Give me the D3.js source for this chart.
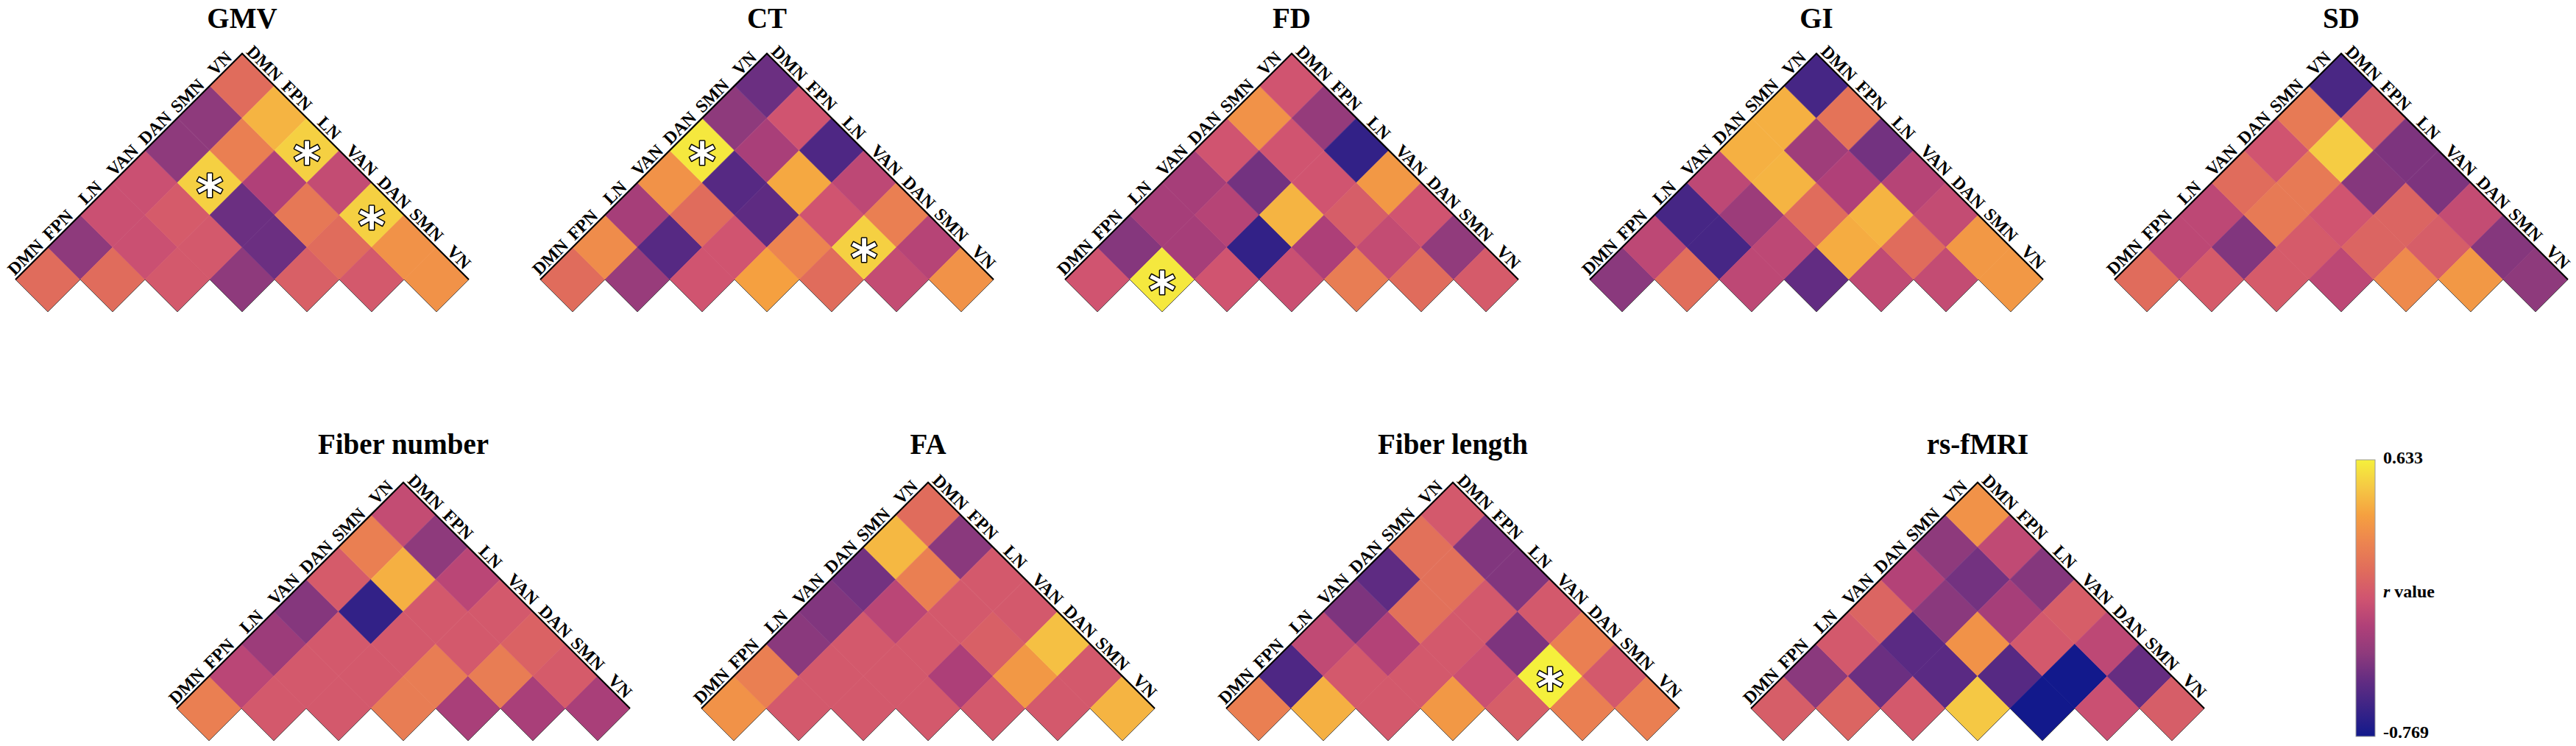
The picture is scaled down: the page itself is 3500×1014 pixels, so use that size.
<!DOCTYPE html>
<html>
<head>
<meta charset="utf-8">
<script src="https://cdn.jsdelivr.net/npm/d3@7"></script>
<style>
  html, body { margin: 0; padding: 0; background: #ffffff; }
  svg { display: block; }
</style>
</head>
<body>
<svg id="chart" width="3500" height="1014"></svg>
<script>
// ---------------- DATA ----------------
const networks = ["DMN", "FPN", "LN", "VAN", "DAN", "SMN", "VN"];
const panelTitles = ["GMV", "CT", "FD", "GI", "SD", "Fiber number", "FA", "Fiber length", "rs-fMRI"];

// r values, upper triangle incl. diagonal, row-major: (0,0)..(0,6),(1,1)..(1,6),...,(6,6)
const gmvValues = [
  0.072, -0.348, -0.096, -0.096, -0.348, -0.348, 0.072,
  0.072, -0.096, -0.026, 0.521, 0.184, 0.423,
  -0.040, -0.040, -0.461, -0.208, 0.521,
  -0.348, -0.461, 0.142, -0.124,
  0.002, 0.072, 0.521,
  -0.040, 0.283,
  0.283];
const ctValues = [
  0.072, 0.254, -0.250, 0.283, 0.605, -0.348, -0.461,
  -0.306, -0.531, 0.072, -0.531, -0.236, -0.068,
  -0.068, -0.068, -0.503, 0.381, -0.559,
  0.353, 0.212, -0.068, -0.152,
  0.072, 0.521, 0.184,
  -0.124, -0.180,
  0.283];
const fdValues = [
  -0.068, -0.376, -0.250, -0.250, -0.068, 0.283, -0.068,
  0.605, -0.250, -0.180, -0.433, -0.068, -0.320,
  -0.068, -0.657, 0.423, -0.068, -0.657,
  -0.096, -0.222, -0.012, 0.311,
  0.170, -0.124, -0.068,
  0.072, -0.334,
  -0.026];
const giValues = [
  -0.362, -0.152, -0.587, -0.152, 0.409, 0.409, -0.587,
  0.086, -0.587, -0.292, 0.423, -0.278, 0.114,
  -0.152, -0.152, 0.072, -0.208, -0.433,
  -0.489, 0.395, 0.423, -0.180,
  -0.138, 0.072, -0.124,
  -0.124, 0.311,
  0.311];
const sdValues = [
  0.072, -0.152, -0.152, 0.072, -0.068, 0.156, -0.573,
  -0.026, -0.390, 0.156, 0.156, 0.507, -0.012,
  -0.026, -0.026, -0.068, -0.376, -0.404,
  -0.152, 0.030, 0.030, -0.404,
  0.240, -0.012, -0.124,
  0.311, -0.376,
  -0.348];
const fiberNumberValues = [
  0.184, -0.166, -0.292, -0.376, -0.026, 0.184, -0.124,
  -0.040, -0.040, -0.040, -0.657, 0.409, -0.348,
  -0.040, -0.040, -0.040, -0.040, -0.166,
  0.170, 0.170, -0.040, -0.040,
  -0.236, 0.170, 0.016,
  -0.236, -0.026,
  -0.236];
const faValues = [
  0.283, 0.184, -0.362, -0.390, -0.433, 0.437, 0.072,
  -0.040, -0.040, -0.040, -0.166, 0.184, -0.362,
  -0.040, -0.040, -0.040, -0.040, -0.040,
  -0.040, -0.222, 0.002, -0.040,
  -0.040, 0.311, 0.465,
  -0.040, -0.040,
  0.423];
const fiberLengthValues = [
  0.184, -0.559, -0.138, -0.404, -0.503, 0.100, -0.040,
  0.409, -0.040, -0.194, 0.100, 0.100, -0.390,
  -0.040, -0.040, -0.040, -0.040, -0.390,
  0.311, -0.096, -0.404, -0.040,
  -0.012, 0.633, 0.184,
  0.184, -0.040,
  0.184];
const rsfmriValues = [
  -0.012, -0.362, -0.040, 0.030, -0.194, -0.348, 0.283,
  0.030, -0.461, -0.517, -0.362, -0.433, -0.138,
  -0.040, -0.517, 0.283, -0.250, -0.376,
  0.493, -0.531, -0.040, -0.012,
  -0.769, -0.769, -0.152,
  -0.096, -0.475,
  -0.012];

// significant cells [row, col]
const gmvStars = [[1, 4], [2, 6], [4, 6]];
const ctStars = [[0, 4], [4, 5]];
const fdStars = [[1, 1]];
const fiberLengthStars = [[4, 5]];

const colorbarTicks = [-0.769, 0.633];
const colorbarTitle = "value";

// ---------------- STYLE / LAYOUT ----------------
const colorStops = ["#12198c", "#3a2386", "#622c82", "#8e3a7c", "#b04078", "#d05470",
                    "#e06c5c", "#ec8450", "#f5a040", "#f5c844", "#f5f03c"];
const rMin = colorbarTicks[0], rMax = colorbarTicks[1];
const color = d3.scaleLinear()
  .domain(colorStops.map((_, i) => rMin + (rMax - rMin) * i / (colorStops.length - 1)))
  .range(colorStops)
  .interpolate(d3.interpolateRgb)
  .clamp(true);

const HW = 44;     // half width of a cell diamond
const HH = 43.9;   // half height of a cell diamond
const SERIF = "'Liberation Serif', 'Times New Roman', Times, serif";

const panels = [
  { title: panelTitles[0], values: gmvValues, stars: gmvStars, x0: 21, base: 380, titleY: 38 },
  { title: panelTitles[1], values: ctValues, stars: ctStars, x0: 734, base: 380, titleY: 38 },
  { title: panelTitles[2], values: fdValues, stars: fdStars, x0: 1447, base: 380, titleY: 38 },
  { title: panelTitles[3], values: giValues, stars: [], x0: 2160, base: 380, titleY: 38 },
  { title: panelTitles[4], values: sdValues, stars: [], x0: 2873, base: 380, titleY: 38 },
  { title: panelTitles[5], values: fiberNumberValues, stars: [], x0: 240, base: 963, titleY: 617 },
  { title: panelTitles[6], values: faValues, stars: [], x0: 953, base: 963, titleY: 617 },
  { title: panelTitles[7], values: fiberLengthValues, stars: fiberLengthStars, x0: 1666, base: 963, titleY: 617 },
  { title: panelTitles[8], values: rsfmriValues, stars: [], x0: 2379, base: 963, titleY: 617 }
];

const svg = d3.select("#chart");
svg.append("rect").attr("width", 3500).attr("height", 1014).attr("fill", "#fff");

const n = networks.length;
const ang = Math.atan2(HH, HW);           // edge angle (radians)
const angDeg = ang * 180 / Math.PI;
const labelOffset = 4;
const labelSize = 24;

panels.forEach(p => {
  const g = svg.append("g").attr("class", "panel");
  const xs = d3.scaleLinear().domain([0, 2 * n]).range([p.x0, p.x0 + 2 * n * HW]);
  const ys = d3.scaleLinear().domain([0, n]).range([p.base, p.base - n * HH]);

  const cells = [];
  let k = 0;
  for (let r = 0; r < n; r++) {
    for (let c = r; c < n; c++) {
      cells.push({ r, c, v: p.values[k++] });
    }
  }
  const diamond = d => {
    const cx = xs(d.r + d.c + 1), cy = ys(d.c - d.r);
    return `M${cx - HW},${cy}L${cx},${cy - HH}L${cx + HW},${cy}L${cx},${cy + HH}Z`;
  };
  g.selectAll("path.cell").data(cells).join("path")
    .attr("class", "cell")
    .attr("d", diamond)
    .attr("fill", d => color(d.v))
    .attr("stroke", d => color(d.v))
    .attr("stroke-width", 0.6);

  // lower outline of the diagonal diamonds
  let zig = `M${xs(0)},${ys(0)}`;
  for (let i = 0; i < n; i++) {
    zig += `L${xs(2 * i + 1)},${p.base + HH}L${xs(2 * i + 2)},${ys(0)}`;
  }
  g.append("path").attr("d", zig).attr("fill", "none")
    .attr("stroke", "#555").attr("stroke-width", 1);

  // triangle edges
  g.append("path")
    .attr("d", `M${xs(0)},${ys(0)}L${xs(n)},${ys(n)}L${xs(2 * n)},${ys(0)}`)
    .attr("fill", "none").attr("stroke", "#000").attr("stroke-width", 2.2)
    .attr("stroke-linejoin", "miter");

  // left edge labels (columns)
  const nl = [-Math.sin(ang), -Math.cos(ang)];
  g.selectAll("text.lab-left").data(networks).join("text")
    .attr("class", "lab-left")
    .attr("transform", (d, i) => {
      const x = xs(i + 0.5) + nl[0] * labelOffset;
      const y = ys(i + 0.5) + nl[1] * labelOffset;
      return `translate(${x},${y}) rotate(${-angDeg})`;
    })
    .attr("text-anchor", "middle")
    .attr("font-family", SERIF).attr("font-weight", "bold").attr("font-size", labelSize)
    .attr("fill", "#000")
    .text(d => d);

  // right edge labels (rows)
  const nr = [Math.sin(ang), -Math.cos(ang)];
  g.selectAll("text.lab-right").data(networks).join("text")
    .attr("class", "lab-right")
    .attr("transform", (d, i) => {
      const x = xs(i + n + 0.5) + nr[0] * labelOffset;
      const y = ys(n - 0.5 - i) + nr[1] * labelOffset;
      return `translate(${x},${y}) rotate(${angDeg})`;
    })
    .attr("text-anchor", "middle")
    .attr("font-family", SERIF).attr("font-weight", "bold").attr("font-size", labelSize)
    .attr("fill", "#000")
    .text(d => d);

  // significance stars
  g.selectAll("text.star").data(p.stars).join("text")
    .attr("class", "star")
    .attr("x", d => xs(d[0] + d[1] + 1))
    .attr("y", d => ys(d[1] - d[0]) + 39)
    .attr("text-anchor", "middle")
    .attr("font-family", "'DejaVu Sans', sans-serif").attr("font-weight", "bold")
    .attr("font-size", 70)
    .attr("fill", "#fff").attr("stroke", "#000").attr("stroke-width", 3)
    .attr("paint-order", "stroke")
    .attr("stroke-linejoin", "round")
    .text("*");

  // title
  g.append("text")
    .attr("x", xs(n)).attr("y", p.titleY)
    .attr("text-anchor", "middle")
    .attr("font-family", SERIF).attr("font-weight", "bold").attr("font-size", 39)
    .attr("fill", "#000")
    .text(p.title);
});

// ---------------- COLORBAR ----------------
const cb = { x: 3201, y: 625, w: 26, h: 376 };
const defs = svg.append("defs");
const grad = defs.append("linearGradient").attr("id", "cbgrad")
  .attr("x1", 0).attr("y1", 1).attr("x2", 0).attr("y2", 0);
grad.selectAll("stop").data(d3.range(0, 1.0001, 0.05)).join("stop")
  .attr("offset", d => d)
  .attr("stop-color", d => color(rMin + d * (rMax - rMin)));

const cbScale = d3.scaleLinear().domain([rMin, rMax]).range([cb.y + cb.h, cb.y]);
svg.append("rect")
  .attr("x", cb.x).attr("y", cbScale(rMax))
  .attr("width", cb.w).attr("height", cbScale(rMin) - cbScale(rMax))
  .attr("fill", "url(#cbgrad)")
  .attr("stroke", "#9a9a9a").attr("stroke-width", 1);

svg.selectAll("text.cbtick").data(colorbarTicks).join("text")
  .attr("class", "cbtick")
  .attr("x", cb.x + cb.w + 11)
  .attr("y", d => d === rMax ? cbScale(d) + 5 : cbScale(d) + 2)
  .attr("font-family", SERIF).attr("font-weight", "bold").attr("font-size", 24)
  .attr("fill", "#000")
  .text(d => d.toFixed(3));

const cbt = svg.append("text")
  .attr("x", cb.x + cb.w + 11).attr("y", 812)
  .attr("font-family", SERIF).attr("font-weight", "bold").attr("font-size", 24)
  .attr("fill", "#000");
cbt.append("tspan").attr("font-style", "italic").text("r");
cbt.append("tspan").text(" " + colorbarTitle);
</script>
</body>
</html>
